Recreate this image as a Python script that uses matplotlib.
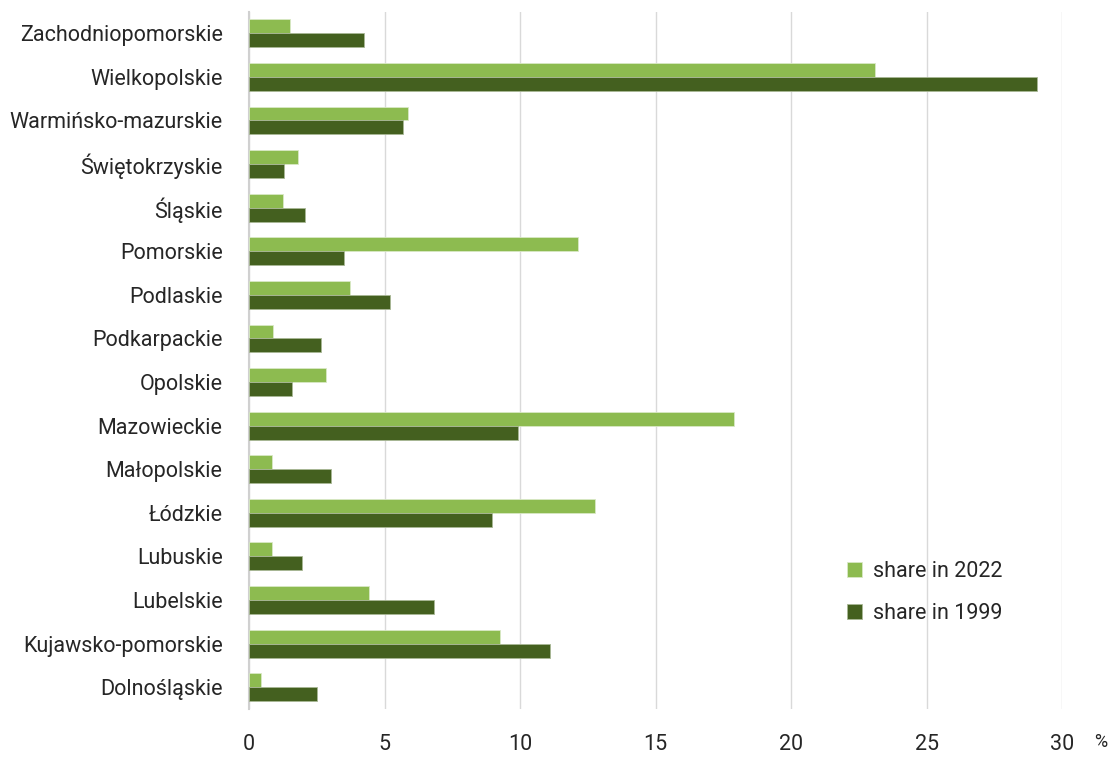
import matplotlib
matplotlib.use("Agg")
import matplotlib.pyplot as plt
import numpy as np

regions = ["Zachodniopomorskie", "Wielkopolskie", "Warmińsko-mazurskie", "Świętokrzyskie",
           "Śląskie", "Pomorskie", "Podlaskie", "Podkarpackie", "Opolskie", "Mazowieckie",
           "Małopolskie", "Łódzkie", "Lubuskie", "Lubelskie", "Kujawsko-pomorskie", "Dolnośląskie"]
share_2022 = [1.51, 23.09, 5.87, 1.81, 1.26, 12.15, 3.73, 0.89, 2.84, 17.91, 0.85, 12.75, 0.85, 4.43, 9.27, 0.44]
share_1999 = [4.25, 29.09, 5.69, 1.29, 2.07, 3.51, 5.21, 2.66, 1.59, 9.91, 3.03, 8.96, 1.96, 6.83, 11.09, 2.51]
xticks = [0, 5, 10, 15, 20, 25, 30]

plt.rcParams['font.family'] = ['Roboto', 'DejaVu Sans']
txt_color = "#262626"

fig = plt.figure(figsize=(11.14, 7.58), dpi=100)
ax = fig.add_axes([249/1114, 1-709/758, (1062-249)/1114, (709-11.5)/758])

y = np.arange(len(regions))
h = 0.32
ax.barh(y - h/2, share_2022, height=h, color="#8DBB50", edgecolor="#d9e8c6", linewidth=0.6, label="share in 2022", zorder=3)
ax.barh(y + h/2, share_1999, height=h, color="#44601F", edgecolor="#a9b896", linewidth=0.6, label="share in 1999", zorder=3)

ax.set_ylim(len(regions) - 0.5, -0.5)
ax.set_xlim(0, 30)
ax.set_yticks(y)
ax.set_yticklabels(regions, fontsize=15.5, color=txt_color)
ax.set_xticks(xticks)
ax.set_xticklabels([str(v) for v in xticks], fontsize=15.5, color=txt_color)
ax.tick_params(axis='both', length=0)
ax.tick_params(axis='y', pad=19)
ax.tick_params(axis='x', pad=18)
ax.grid(axis='x', color="#d9d9d9", linewidth=1, zorder=0)
for s in ["top", "right", "bottom"]:
    ax.spines[s].set_visible(False)
ax.spines["left"].set_color("#d0d0d0")
ax.spines["left"].set_linewidth(1.5)

fig.text(1101/1114, 1-742/758, "%", fontsize=13, color=txt_color, ha="center", va="center")

leg = ax.legend(loc="lower left", bbox_to_anchor=((828-249)/(1062-249), (709-643)/(709-11.5)),
                frameon=False, handlelength=0.7, handleheight=0.7,
                handletextpad=0.5, labelspacing=0.95, prop={'size': 15.5})
for t in leg.get_texts():
    t.set_color(txt_color)

fig.savefig("out.png", dpi=100)
